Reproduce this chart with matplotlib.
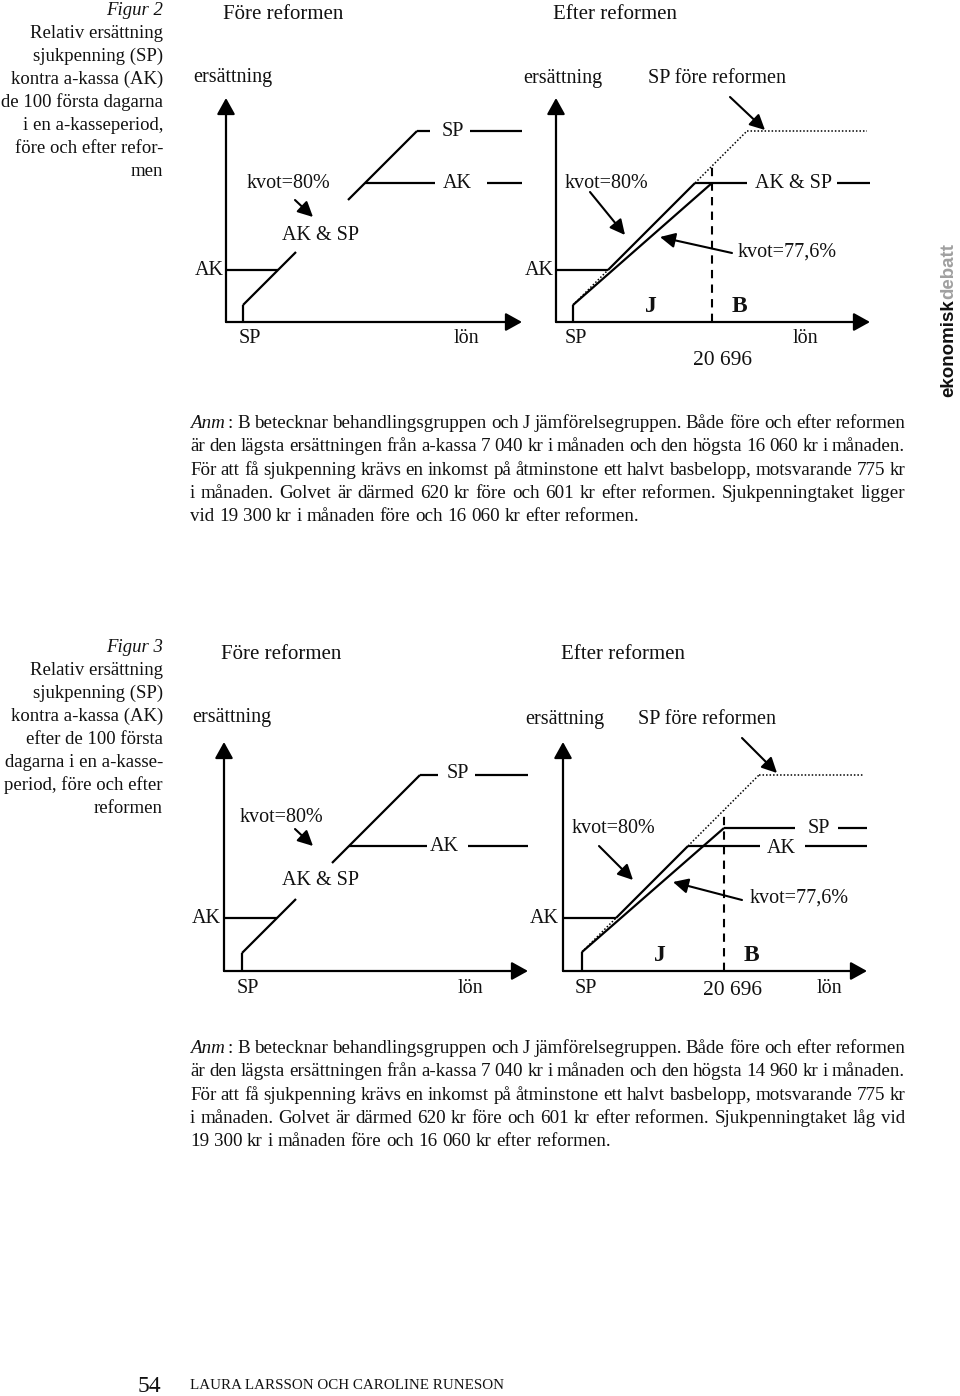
import matplotlib
matplotlib.use('Agg')
import matplotlib.pyplot as plt

plt.rcParams['font.family'] = ['Liberation Serif', 'DejaVu Serif']

# schematic levels in diagram units; order: fig 2 före, fig 2 efter, fig 3 före, fig 3 efter
golv = [17, 17, 18, 19]              # golv för SP (lön = ersättning)
ak_lagsta = [52, 52, 53, 53]         # lägsta ersättning från a-kassan
ak_tak = [139, 139, 125, 125]        # högsta ersättning från a-kassan
sp_tak = [191, 139, 196, 143]        # sjukpenningtak
sp_tak_fore = [191, 191, 196, 196]   # sjukpenningtak före reformen (prickad)
brytlon = [None, 156, None, 161]     # lön 20 696 kr, gräns J / B
brytlon_text = '20 696'
kvot_fore = '80%'
kvot_efter = '77,6%'

caption2 = ['Figur 2', 'Relativ ersättning', 'sjukpenning (SP)', 'kontra a-kassa (AK)',
            'de 100 första dagarna', 'i en a-kasseperiod,', 'före och efter refor-', 'men']
caption3 = ['Figur 3', 'Relativ ersättning', 'sjukpenning (SP)', 'kontra a-kassa (AK)',
            'efter de 100 första', 'dagarna i en a-kasse-', 'period, före och efter', 'reformen']

note2 = ['Anm: B betecknar behandlingsgruppen och J jämförelsegruppen. Både före och efter reformen',
         'är den lägsta ersättningen från a-kassa 7 040 kr i månaden och den högsta 16 060 kr i månaden.',
         'För att få sjukpenning krävs en inkomst på åtminstone ett halvt basbelopp, motsvarande 775 kr',
         'i månaden. Golvet är därmed 620 kr före och 601 kr efter reformen. Sjukpenningtaket ligger',
         'vid 19 300 kr i månaden före och 16 060 kr efter reformen.']
note3 = ['Anm: B betecknar behandlingsgruppen och J jämförelsegruppen. Både före och efter reformen',
         'är den lägsta ersättningen från a-kassa 7 040 kr i månaden och den högsta 14 960 kr i månaden.',
         'För att få sjukpenning krävs en inkomst på åtminstone ett halvt basbelopp, motsvarande 775 kr',
         'i månaden. Golvet är därmed 620 kr före och 601 kr efter reformen. Sjukpenningtaket låg vid',
         '19 300 kr i månaden före och 16 060 kr efter reformen.']

W, H = 960, 1396
fig = plt.figure(figsize=(W / 100, H / 100), dpi=100, facecolor='white')

# page overlay in pixel units for the text
page = fig.add_axes([0, 0, 1, 1])
page.set_xlim(0, W)
page.set_ylim(H, 0)
page.axis('off')

LW = 1.6
DOT = (0, (1, 1.3))
INK = '#111111'


def panel(ox, oy):
    ax = fig.add_axes([ox / W, (H - oy) / H, 330 / W, 240 / H])
    ax.set_xlim(0, 330)
    ax.set_ylim(0, 240)
    ax.axis('off')
    return ax


def axes_arrows(ax, xl, yl):
    st = '-|>,head_length=0.45,head_width=0.25'
    for tip in [(xl, 0), (0, yl)]:
        ax.annotate('', xy=tip, xytext=(0, 0), annotation_clip=False,
                    arrowprops=dict(arrowstyle=st, lw=LW, color='black', mutation_scale=22,
                                    shrinkA=0, shrinkB=0))


def seg(ax, xs, ys, ls='-', lw=LW):
    ax.plot(xs, ys, color='black', lw=lw, ls=ls, solid_capstyle='butt', clip_on=False)


def hline(ax, y, parts):
    for a, b in parts:
        seg(ax, [a, b], [y, y])


origins = [(226, 322), (556, 322), (224, 971), (563, 971)]
xlen = [296, 314, 304, 304]
ylen = [224, 224, 229, 229]
diag_gap = {0: (70, 122), 2: (72, 108)}
ak_cap_parts = {0: [(None, 209), (261, 296)], 1: [(None, 191), (281, 314)],
                2: [(None, 203), (244, 304)], 3: [(None, 197), (242, 304)]}
sp_cap_parts = {0: [(None, 204), (244, 296)], 2: [(None, 214), (251, 304)],
                3: [(None, 232), (275, 304)]}

for i, (ox, oy) in enumerate(origins):
    ax = panel(ox, oy)
    axes_arrows(ax, xlen[i], ylen[i])
    g = golv[i]
    # golv
    seg(ax, [g, g], [0, g])
    # lägsta AK
    hline(ax, ak_lagsta[i], [(0, ak_lagsta[i])])
    # AK-tak
    parts = ak_cap_parts[i]
    hline(ax, ak_tak[i], [(ak_tak[i] if a is None else a, b) for a, b in parts])
    if brytlon[i] is None:
        # före reformen: kvot 80 % upp till SP-taket
        g0, g1 = diag_gap[i]
        seg(ax, [g, g0], [g, g0])
        seg(ax, [g1, sp_tak[i]], [g1, sp_tak[i]])
        parts = sp_cap_parts[i]
        hline(ax, sp_tak[i], [(sp_tak[i] if a is None else a, b) for a, b in parts])
    else:
        b = brytlon[i]
        # kvot 80 %: AK-delen heldragen, SP före reformen prickad
        seg(ax, [g, ak_lagsta[i]], [g, ak_lagsta[i]], ls=DOT, lw=1.1)
        seg(ax, [ak_lagsta[i], ak_tak[i]], [ak_lagsta[i], ak_tak[i]])
        seg(ax, [ak_tak[i], sp_tak_fore[i]], [ak_tak[i], sp_tak_fore[i]], ls=DOT, lw=1.1)
        seg(ax, [sp_tak_fore[i], xlen[i] - 3], [sp_tak_fore[i]] * 2, ls=DOT, lw=1.1)
        # kvot 77,6 % efter reformen
        seg(ax, [g, b], [g, sp_tak[i]])
        if i in sp_cap_parts:
            parts = sp_cap_parts[i]
            hline(ax, sp_tak[i], [(b if a is None else a, bb) for a, bb in parts])
        # gräns 20 696
        seg(ax, [b, b], [0, b], ls=(0, (4, 3)), lw=1.5)

# text in the diagrams (page pixels, baseline)
LS = 14.5
labels = [
    ('Före reformen', 223, 19, 15, 'normal'), ('Efter reformen', 553, 19, 15, 'normal'),
    ('ersättning', 193, 82, LS, 'normal'), ('kvot=' + kvot_fore, 247, 188, LS, 'normal'),
    ('AK & SP', 282, 240, LS, 'normal'), ('SP', 442, 136, LS, 'normal'),
    ('AK', 443, 188, LS, 'normal'), ('AK', 195, 275, LS, 'normal'),
    ('SP', 239, 343, LS, 'normal'), ('lön', 454, 343, LS, 'normal'),
    ('ersättning', 523, 83, LS, 'normal'), ('SP före reformen', 648, 83, LS, 'normal'),
    ('kvot=' + kvot_fore, 565, 188, LS, 'normal'), ('AK & SP', 755, 188, LS, 'normal'),
    ('kvot=' + kvot_efter, 738, 257, LS, 'normal'), ('AK', 525, 275, LS, 'normal'),
    ('J', 645, 312, 17, 'bold'), ('B', 732, 312, 17, 'bold'),
    ('SP', 565, 343, LS, 'normal'), ('lön', 793, 343, LS, 'normal'),
    (brytlon_text, 693, 365, 15.5, 'normal'),
    ('Före reformen', 221, 659, 15, 'normal'), ('Efter reformen', 561, 659, 15, 'normal'),
    ('ersättning', 192, 722, LS, 'normal'), ('SP', 447, 778, LS, 'normal'),
    ('AK', 430, 851, LS, 'normal'), ('kvot=' + kvot_fore, 240, 822, LS, 'normal'),
    ('AK & SP', 282, 885, LS, 'normal'), ('AK', 192, 923, LS, 'normal'),
    ('SP', 237, 993, LS, 'normal'), ('lön', 458, 993, LS, 'normal'),
    ('ersättning', 525, 724, LS, 'normal'), ('SP före reformen', 638, 724, LS, 'normal'),
    ('SP', 808, 833, LS, 'normal'), ('AK', 767, 853, LS, 'normal'),
    ('kvot=' + kvot_fore, 572, 833, LS, 'normal'), ('kvot=' + kvot_efter, 750, 903, LS, 'normal'),
    ('AK', 530, 923, LS, 'normal'), ('J', 654, 961, 17, 'bold'), ('B', 744, 961, 17, 'bold'),
    ('SP', 575, 993, LS, 'normal'), (brytlon_text, 703, 995, 15.5, 'normal'),
    ('lön', 817, 993, LS, 'normal'),
]
for txt, x, y, fs, fw in labels:
    page.text(x, y, txt, fontsize=fs, fontweight=fw, va='baseline', ha='left', color=INK)

pointers = [((295, 200), (313, 217)),
            ((730, 97), (765, 130)), ((590, 192), (625, 235)), ((732, 253), (660, 237)),
            ((295, 829), (313, 846)),
            ((742, 738), (777, 773)), ((599, 846), (633, 880)), ((742, 900), (673, 882))]
for start, end in pointers:
    page.annotate('', xy=end, xytext=start,
                  arrowprops=dict(arrowstyle='-|>,head_length=0.7,head_width=0.35', lw=1.5,
                                  color='black', mutation_scale=13, shrinkA=0, shrinkB=0))

# captions, right aligned
for k, line in enumerate(caption2):
    page.text(163, 15 + 23 * k, line, fontsize=13.5, ha='right', va='baseline',
              style='italic' if k == 0 else 'normal', color=INK)
for k, line in enumerate(caption3):
    page.text(163, 652 + 23 * k, line, fontsize=13.5, ha='right', va='baseline',
              style='italic' if k == 0 else 'normal', color=INK)

# justified notes
renderer = fig.canvas.get_renderer()


def word_item(w, y, fs):
    # returns the text pieces making one word and its width
    if w == 'Anm:':
        a = page.text(0, y, 'Anm', fontsize=fs, style='italic', va='baseline', color=INK)
        c = page.text(0, y, ':', fontsize=fs, va='baseline', color=INK)
        wa = a.get_window_extent(renderer).width
        wc = c.get_window_extent(renderer).width
        return [(a, 0), (c, wa + 3)], wa + 3 + wc
    t = page.text(0, y, w, fontsize=fs, va='baseline', color=INK)
    return [(t, 0)], t.get_window_extent(renderer).width


def note(lines, y0, x0=190, x1=905, fs=13.7):
    for k, line in enumerate(lines):
        y = y0 + 23.3 * k
        items = [word_item(w, y, fs) for w in line.split(' ')]
        total = sum(wd for _, wd in items)
        last = k == len(lines) - 1
        gap = fs * 100 / 72 * 0.25 if last else (x1 - x0 - total) / (len(items) - 1)
        x = x0
        for pieces, wd in items:
            for t, off in pieces:
                t.set_x(x + off)
            x += wd + gap


note(note2, 428)
note(note3, 1053)

# vertical magazine mark
t1 = page.text(949, 397, 'ekonomisk', rotation=90, ha='center', va='bottom', fontsize=13.5,
               fontweight='bold', family='Liberation Sans', color=INK)
bb = t1.get_window_extent(renderer)
page.text(949, H - bb.y1, 'debatt', rotation=90, ha='center', va='bottom', fontsize=13.5,
          fontweight='bold', family='Liberation Sans', color='#a0a0a0')

# footer
page.text(138, 1392, '54', fontsize=17, va='baseline', color=INK)
page.text(190, 1389, 'LAURA LARSSON OCH CAROLINE RUNESON', fontsize=10.8, va='baseline',
          color=INK)

fig.savefig('out.png', dpi=100, facecolor='white')
